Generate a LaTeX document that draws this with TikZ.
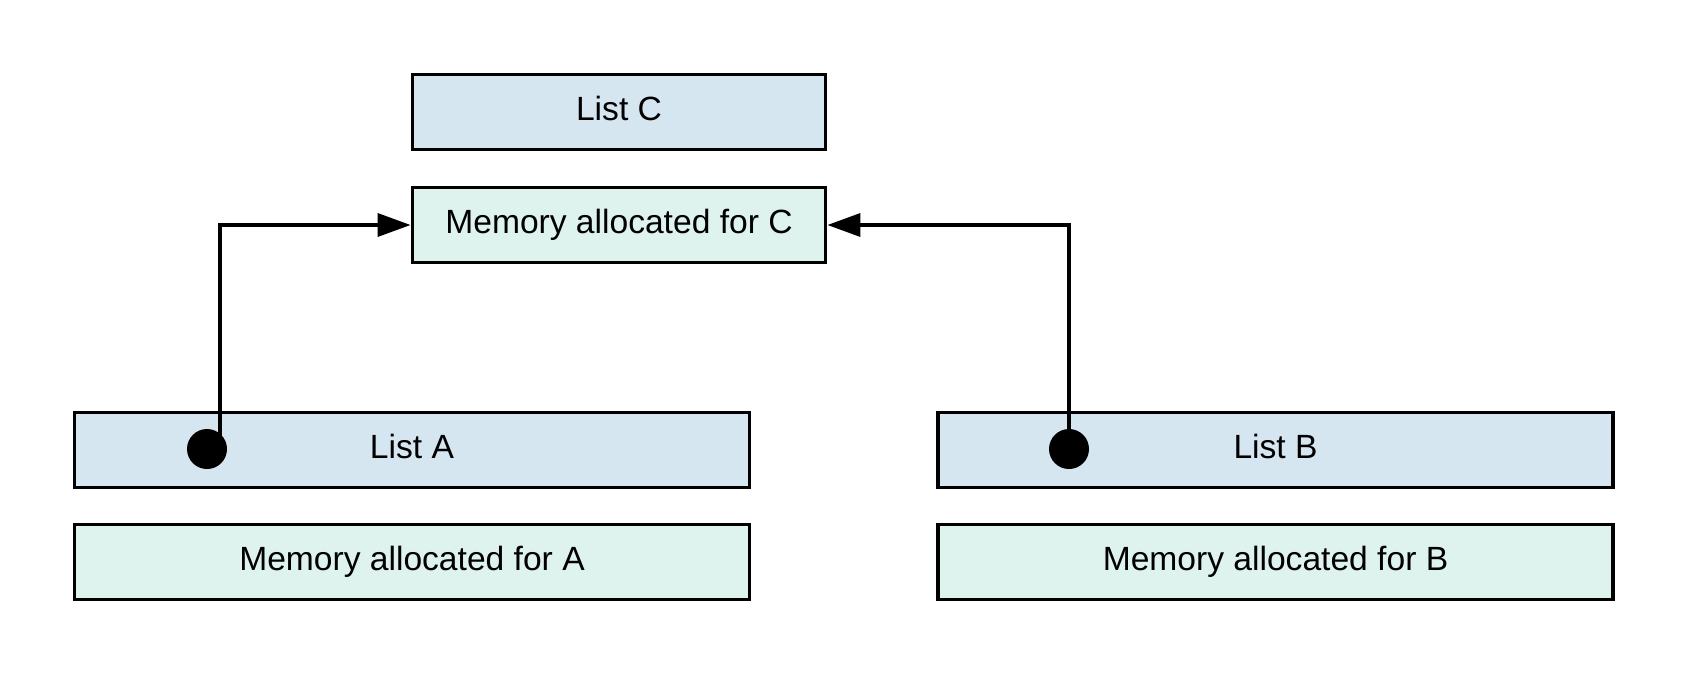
\documentclass[tikz,border=0pt]{standalone}
\usepackage{fontspec}
\setmainfont{Liberation Sans}
\usetikzlibrary{arrows.meta}
\definecolor{listfill}{RGB}{213,230,241}
\definecolor{memfill}{RGB}{222,243,237}
\begin{document}
\begin{tikzpicture}[x=1pt,y=-1pt,
  box/.style={draw=black,line width=3.8pt,minimum height=75pt,inner sep=0pt,
    font=\fontsize{33.6}{40}\selectfont,text height=24pt,text depth=8pt},
  listbox/.style={box,fill=listfill},
  membox/.style={box,fill=memfill},
  dotnode/.style={circle,fill=black,inner sep=0pt,minimum size=40pt},
  link/.style={line width=3.6pt,-{Triangle[length=33pt,width=23pt]}}]
\useasboundingbox (0,0) rectangle (1688,675);
\node[listbox,minimum width=413pt] (listC) at (619,112) {List C};
\node[membox,minimum width=413pt] (memC) at (619,225) {Memory allocated for C};
\node[listbox,minimum width=675pt] (listA) at (412,450) {List A};
\node[membox,minimum width=675pt] (memA) at (412,562) {Memory allocated for A};
\node[listbox,minimum width=675pt] (listB) at (1275.5,450) {List B};
\node[membox,minimum width=675pt] (memB) at (1275.5,562) {Memory allocated for B};
\node[dotnode] (dotA) at (207,449) {};
\node[dotnode] (dotB) at (1069,449) {};
\coordinate (startA) at (220,440);
\draw[link] (startA) |- (memC.west);
\draw[link] (dotB.center) |- (memC.east);
\end{tikzpicture}
\end{document}
